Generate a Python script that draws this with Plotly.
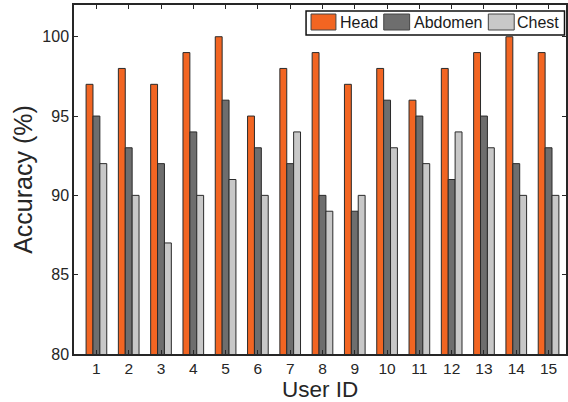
import plotly.graph_objects as go

users = list(range(1, 16))
head = [97, 98, 97, 99, 100, 95, 98, 99, 97, 98, 96, 98, 99, 100, 99]
abdomen = [95, 93, 92, 94, 96, 93, 92, 90, 89, 96, 95, 91, 95, 92, 93]
chest = [92, 90, 87, 90, 91, 90, 94, 89, 90, 93, 92, 94, 93, 90, 90]
series_names = ["Head", "Abdomen", "Chest"]
colors = ["#F26522", "#6E6E6E", "#C8C8C8"]

W, H = 568, 402
L, R, T, B = 74, 0, 5, 48
pw, ph = W - L - R, H - T - B

fig = go.Figure()
for name, vals, c in zip(series_names, [head, abdomen, chest], colors):
    fig.add_trace(go.Bar(x=users, y=vals, name=name, marker=dict(color=c, line=dict(color="#2a2a2a", width=1)),
                         showlegend=False))

def px2x(px):
    return (px - L) / pw

def px2y(py):
    return (H - B - py) / ph

shapes = []
annotations = []
# legend box
shapes.append(dict(type="rect", xref="paper", yref="paper", x0=px2x(307), x1=px2x(566.5), y0=px2y(35), y1=px2y(11),
                   line=dict(color="#111111", width=1.5), fillcolor="white", layer="above"))
sw = [(312, 337, 339), (385, 411, 413), (490, 516, 517)]
for (a, b, t), name, c in zip(sw, series_names, colors):
    shapes.append(dict(type="rect", xref="paper", yref="paper", x0=px2x(a), x1=px2x(b), y0=px2y(30), y1=px2y(14),
                       line=dict(color="#444444", width=1), fillcolor=c, layer="above"))
    annotations.append(dict(xref="paper", yref="paper", x=px2x(t), y=px2y(22.5), text=name, showarrow=False,
                            xanchor="left", yanchor="middle", font=dict(size=16, color="#1a1a1a")))

# x-axis title
annotations.append(dict(xref="paper", yref="paper", x=0.5, y=px2y(376), text="User ID", showarrow=False,
                        xanchor="center", yanchor="top", borderpad=0, font=dict(size=22.5, color="#262626")))

fig.update_layout(
    width=W, height=H,
    margin=dict(l=L, r=R, t=T, b=B),
    plot_bgcolor="white", paper_bgcolor="white",
    font=dict(family="Liberation Sans, Arial, sans-serif", color="#262626"),
    barmode="group", bargap=0.36, bargroupgap=0,
    shapes=shapes, annotations=annotations,
    xaxis=dict(range=[0.306, 15.54], tickmode="array", tickvals=users, ticktext=[str(u) for u in users],
               ticks="inside", ticklen=4, tickcolor="#262626", showline=True, linecolor="#262626", linewidth=1.5,
               mirror="ticks", showgrid=False, zeroline=False, tickfont=dict(size=15.5)),
    yaxis=dict(range=[80, 102], tickvals=[80, 85, 90, 95, 100], ticks="inside", ticklen=4, tickcolor="#262626",
               showline=True, linecolor="#262626", linewidth=1.5, mirror="ticks", showgrid=False, zeroline=False,
               tickfont=dict(size=16), title=dict(text="Accuracy (%)", font=dict(size=25), standoff=3)),
)

fig.write_html("out.html", config={"displayModeBar": False},
               post_script="document.body.style.margin='0';document.body.style.overflow='hidden';")
